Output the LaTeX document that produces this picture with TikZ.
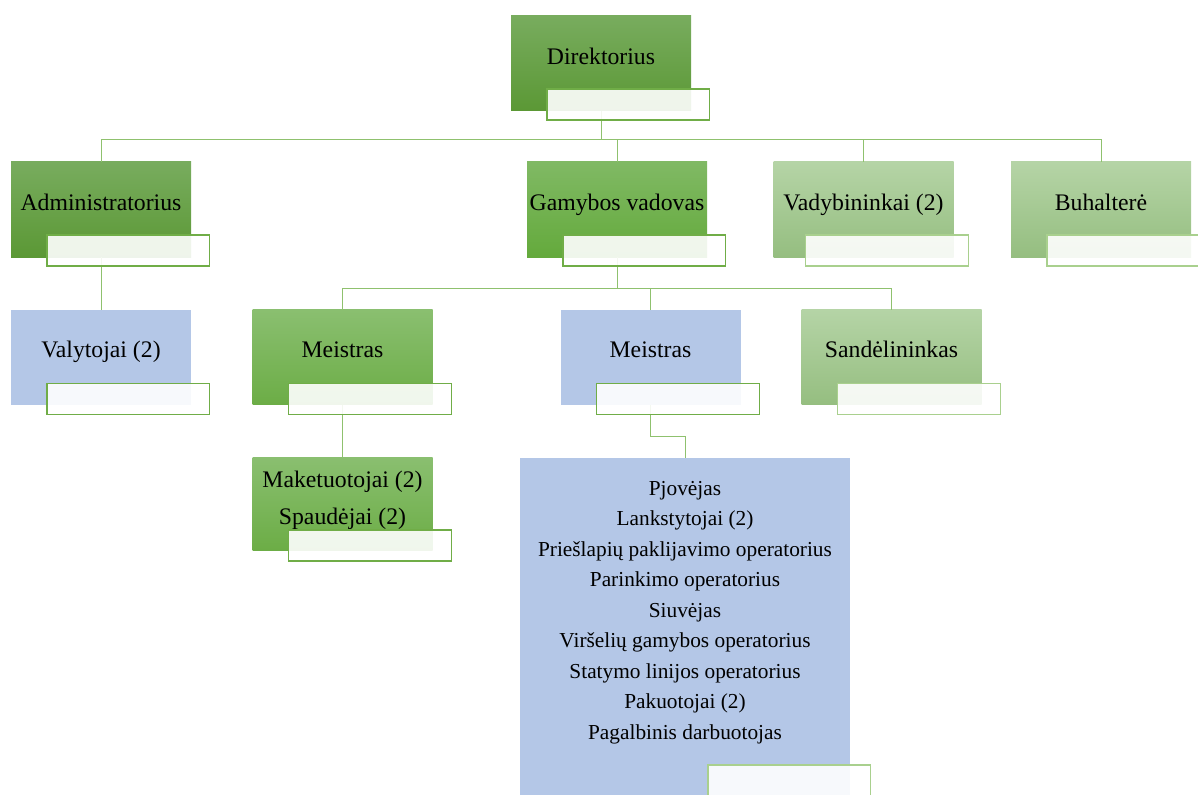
\documentclass[tikz,border=0pt]{standalone}
\usepackage{fontspec}
\setmainfont{Liberation Serif}
\usetikzlibrary{calc}

\definecolor{dkTop}{RGB}{120,172,94}
\definecolor{dkBot}{RGB}{91,152,53}
\definecolor{mdTop}{RGB}{128,185,100}
\definecolor{mdBot}{RGB}{100,170,60}
\definecolor{mlTop}{RGB}{138,191,112}
\definecolor{mlBot}{RGB}{108,173,70}
\definecolor{ltTop}{RGB}{181,212,166}
\definecolor{ltBot}{RGB}{149,190,128}
\definecolor{blueBox}{RGB}{180,199,231}
\definecolor{lineDk}{RGB}{112,173,71}
\definecolor{lineLt}{RGB}{169,208,142}
\definecolor{connGrn}{RGB}{143,193,110}

\tikzset{
  box/.style={rectangle, inner sep=0pt, outer sep=0pt, minimum width=135pt, minimum height=71.25pt,
    font=\fontsize{17.8}{22}\selectfont, text height=12pt, text depth=11pt},
  dark/.style={box, top color=dkTop, bottom color=dkBot},
  mid/.style={box, top color=mdTop, bottom color=mdBot},
  midlt/.style={box, top color=mlTop, bottom color=mlBot},
  light/.style={box, top color=ltTop, bottom color=ltBot},
  bluebox/.style={box, fill=blueBox},
  lbl/.style={rectangle, inner sep=0pt, outer sep=0pt, anchor=north west, line width=1pt,
    fill=white, fill opacity=0.9, minimum width=122pt, minimum height=23.25pt},
  lblDk/.style={lbl, draw=lineDk},
  lblLt/.style={lbl, draw=lineLt},
  conn/.style={draw=connGrn, line width=0.75pt},
}

\begin{document}
\begin{tikzpicture}[x=0.75pt,y=0.75pt,yscale=-1,xscale=1]
\useasboundingbox (0,0) rectangle (1198,795);
\clip (0,0) rectangle (1198,795);

% Boxes
\node[dark] (dir) at (601,63.5) {Direktorius};
\node[dark] (adm) at (101,209.5) {Administratorius};
\node[mid] (gam) at (617,209.5) {Gamybos vadovas};
\node[light] (vad) at (863.5,209.5) {Vadybininkai (2)};
\node[light] (buh) at (1101,209.5) {Buhalterė};
\node[bluebox] (val) at (101,357) {Valytojai (2)};
\node[midlt] (ms1) at (342.5,357) {Meistras};
\node[bluebox] (ms2) at (650.5,357) {Meistras};
\node[light] (snd) at (891.5,357) {Sandėlininkas};
\node[midlt, minimum height=69.75pt] (mak) at (342.5,503.5) {};
\node[bluebox, anchor=north, minimum width=247.5pt, minimum height=258.75pt] (big) at (685,458) {};

% Texts of the two lists
\node[align=center, font=\fontsize{17.8}{27.75}\selectfont, inner sep=0pt] (makT) at (342.5,500)
  {Maketuotojai (2)\\Spaudėjai (2)};
\node[align=center, font=\fontsize{16}{22.9}\selectfont, inner sep=0pt] (bigT) at (685,612.5)
  {Pjovėjas\\Lankstytojai (2)\\Priešlapių paklijavimo operatorius\\Parinkimo operatorius\\Siuvėjas\\
   Viršelių gamybos operatorius\\Statymo linijos operatorius\\Pakuotojai (2)\\Pagalbinis darbuotojas};

% Connectors
\coordinate (bus1) at (0,140);
\coordinate (bus2) at (0,288);
\coordinate (bus3) at (0,436);
\draw[conn] (dir.south) |- (bus1 -| adm.north) -- (adm.north);
\draw[conn] (dir.south) |- (bus1 -| buh.north) -- (buh.north);
\draw[conn] (bus1 -| gam.north) -- (gam.north);
\draw[conn] (bus1 -| vad.north) -- (vad.north);
\draw[conn] (adm.south) -- (val.north);
\draw[conn] (gam.south) |- (bus2 -| ms1.north) -- (ms1.north);
\draw[conn] (gam.south) |- (bus2 -| snd.north) -- (snd.north);
\draw[conn] (bus2 -| ms2.north) -- (ms2.north);
\draw[conn] (ms1.south) -- (mak.north);
\draw[conn] (ms2.south) |- (bus3 -| big.north) -- (big.north);

% Label boxes
\node[lblDk] (dirL) at ($(dir.south west)+(36,-22)$) {};
\node[lblDk] (admL) at ($(adm.south west)+(36,-22)$) {};
\node[lblDk] (gamL) at ($(gam.south west)+(36,-22)$) {};
\node[lblLt] (vadL) at ($(vad.south west)+(32,-22)$) {};
\node[lblLt] (buhL) at ($(buh.south west)+(36,-22)$) {};
\node[lblDk] (valL) at ($(val.south west)+(36,-21)$) {};
\node[lblDk] (ms1L) at ($(ms1.south west)+(36,-21)$) {};
\node[lblDk] (ms2L) at ($(ms2.south west)+(36,-21)$) {};
\node[lblLt] (sndL) at ($(snd.south west)+(36,-21)$) {};
\node[lblDk] (makL) at ($(mak.south west)+(36,-20)$) {};
\node[lblLt] (bigL) at (708,765) {};

\end{tikzpicture}
\end{document}
